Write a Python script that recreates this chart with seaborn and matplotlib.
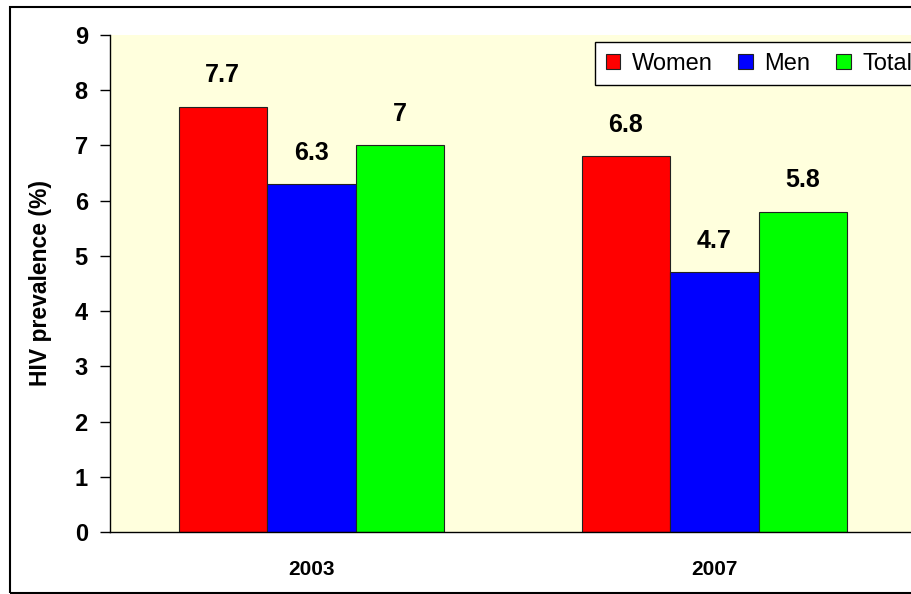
import matplotlib
matplotlib.use("Agg")
import matplotlib.pyplot as plt
import seaborn as sns
import pandas as pd
from matplotlib.patches import Rectangle

# Chart data
years = ["2003", "2007"]
groups = ["Women", "Men", "Total"]
women = [7.7, 6.8]
men = [6.3, 4.7]
total = [7.0, 5.8]
colors = ["#FF0000", "#0000FF", "#00FF00"]

df = pd.DataFrame({
    "year": years * 3,
    "group": [g for g in groups for _ in years],
    "value": women + men + total,
})

sns.set_theme(style="white")
plt.rcParams["font.family"] = ["Liberation Sans", "DejaVu Sans"]
for key in ["text.color", "axes.labelcolor", "xtick.color", "ytick.color"]:
    plt.rcParams[key] = "black"

fig = plt.figure(figsize=(9.11, 5.94), dpi=100)
ax = fig.add_axes([110 / 911, 62 / 594, 806 / 911, 497 / 594])
ax.set_facecolor("#FFFFDD")

sns.barplot(data=df, x="year", y="value", hue="group", palette=colors,
            saturation=1, width=0.66, edgecolor="#222222", linewidth=0.8, ax=ax)

for cont in ax.containers:
    ax.bar_label(cont, labels=[f"{v:g}" for v in cont.datavalues],
                 padding=14, fontsize=18, fontweight="bold")

ax.set_ylim(0, 9)
ax.set_yticks(range(10))
ax.set_yticklabels([str(i) for i in range(10)], fontsize=17, fontweight="bold")
ax.set_xlim(-0.5, 1.5)
ax.set_xticks([-0.5, 0.5, 1.5], minor=False)
ax.set_xticklabels([])
ax.set_xticks([0, 1], minor=True)
ax.set_xticklabels(years, minor=True, fontsize=15, fontweight="bold",
                   family=["Liberation Sans Narrow", "Liberation Sans"])
ax.tick_params(axis="x", which="major", length=7, width=1, color="black", direction="out")
ax.tick_params(axis="x", which="minor", length=0, pad=20)
ax.tick_params(axis="y", length=7, width=1, color="black", direction="out", pad=9, left=True)

ax.set_xlabel("")
ax.set_ylabel("HIV prevalence (%)", fontsize=16.5, fontweight="bold", labelpad=16)

for side in ["top", "right"]:
    ax.spines[side].set_visible(False)
for side in ["left", "bottom"]:
    ax.spines[side].set_color("black")
    ax.spines[side].set_linewidth(1)

handles, labels = ax.get_legend_handles_labels()
ax.legend(handles, labels, loc="upper left", bbox_to_anchor=(595 / 911, 1 - 42 / 594),
          bbox_transform=fig.transFigure, ncol=3, frameon=True, fancybox=False,
          edgecolor="black", facecolor="white", framealpha=1, fontsize=17,
          handlelength=0.6, handleheight=0.6, handletextpad=0.5, columnspacing=1.1,
          borderpad=0.45, borderaxespad=0)
ax.get_legend().get_frame().set_linewidth(1)

# outer border of the picture
fig.patches.append(Rectangle((10 / 911, 1 / 594), 1.2, 586 / 594, transform=fig.transFigure,
                             fill=False, edgecolor="black", linewidth=1.5, zorder=10))

fig.savefig("out.png", dpi=100)
